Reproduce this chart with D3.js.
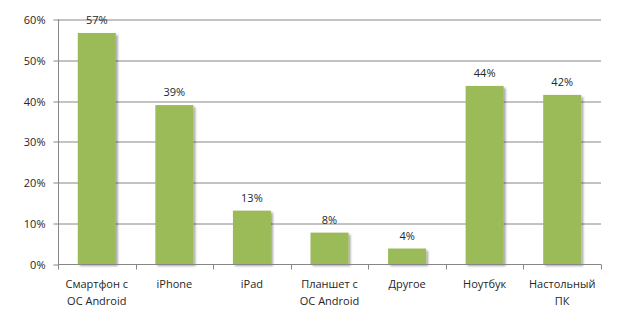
<!DOCTYPE html>
<html>
<head>
<meta charset="utf-8">
<script src="https://cdn.jsdelivr.net/npm/d3@7"></script>
<style>
  body { margin: 0; background: #fff; }
  svg text { font-family: "Open Sans", "Noto Sans", sans-serif; font-size: 11px; fill: #262626; }
  .axis path, .axis line { stroke: #868686; }
</style>
</head>
<body>
<svg width="643" height="316"><g class="chart"></g></svg>
<script>
const categories = [
  ['Смартфон  с', 'ОС Android'],
  ['iPhone'],
  ['iPad'],
  ['Планшет с', 'ОС Android'],
  ['Другое'],
  ['Ноутбук'],
  ['Настольный', 'ПК']
]
const values = [56.7, 39, 13.1, 7.7, 3.8, 43.7, 41.5]
const yTicks = [0, 10, 20, 30, 40, 50, 60]

const MARGIN = { top: 19.5, right: 42, bottom: 52, left: 58 }
const width = 643, height = 316
const boundedWidth = width - MARGIN.left - MARGIN.right
const boundedHeight = height - MARGIN.top - MARGIN.bottom

const $svg = d3.select('svg')
const $gVis = $svg.select('.chart')
  .attr('transform', `translate(${MARGIN.left}, ${MARGIN.top})`)

const xScale = d3.scaleBand()
  .domain(d3.range(categories.length))
  .range([0, boundedWidth])
  .paddingInner(0.51)
  .paddingOuter(0.255)

const bandScale = d3.scaleBand()
  .domain(d3.range(categories.length))
  .range([0, boundedWidth])

const yScale = d3.scaleLinear()
  .domain([0, 60])
  .range([boundedHeight, 0])

// grid
$gVis.append('g')
  .selectAll('line')
  .data(yTicks.slice(1))
  .enter()
  .append('line')
  .attr('x1', 0)
  .attr('x2', boundedWidth)
  .attr('y1', d => Math.round(yScale(d)) + 0.5)
  .attr('y2', d => Math.round(yScale(d)) + 0.5)
  .attr('stroke', '#868686')

// y axis
const yAxis = $gVis.append('g')
  .attr('class', 'axis y-axis')
  .attr('transform', 'translate(0.5, 0)')
  .call(d3.axisLeft(yScale).tickValues(yTicks).tickSize(5).tickPadding(8).tickFormat(d => `${d}%`))
yAxis.select('.domain').attr('d', `M0,${boundedHeight}V0`)
yAxis.selectAll('.tick').attr('transform', d => `translate(0, ${Math.round(yScale(d)) + 0.5})`)

// shadows
const defs = $svg.append('defs')
const filter = defs.append('filter').attr('id', 'shadow')
  .attr('x', '-20%').attr('y', '-20%').attr('width', '150%').attr('height', '150%')
filter.append('feGaussianBlur').attr('in', 'SourceAlpha').attr('stdDeviation', 1.2)
filter.append('feOffset').attr('dx', 2).attr('dy', 1.5).attr('result', 'off')
filter.append('feComponentTransfer').append('feFuncA').attr('type', 'linear').attr('slope', 0.35)
const merge = filter.append('feMerge')
merge.append('feMergeNode')
merge.append('feMergeNode').attr('in', 'SourceGraphic')

// bars
$gVis.selectAll('rect.bar')
  .data(values)
  .enter()
  .append('rect')
  .attr('class', 'bar')
  .attr('x', (d, i) => xScale(i))
  .attr('y', d => yScale(d))
  .attr('width', xScale.bandwidth())
  .attr('height', d => boundedHeight - yScale(d))
  .attr('fill', '#9BBB59')
  .attr('filter', 'url(#shadow)')

// x axis
const xAxis = $gVis.append('g')
  .attr('class', 'axis x-axis')
  .attr('transform', `translate(0, ${boundedHeight + 0.5})`)
xAxis.append('line')
  .attr('x1', 0).attr('x2', boundedWidth)
  .attr('stroke', '#868686')
xAxis.selectAll('line.tick')
  .data(d3.range(categories.length + 1))
  .enter()
  .append('line')
  .attr('class', 'tick')
  .attr('x1', i => Math.round(i * bandScale.step()) + 0.5)
  .attr('x2', i => Math.round(i * bandScale.step()) + 0.5)
  .attr('y1', 0)
  .attr('y2', 5)
  .attr('stroke', '#868686')

const xLabels = xAxis.selectAll('text.x-label')
  .data(categories)
  .enter()
  .append('text')
  .attr('class', 'x-label')
  .attr('text-anchor', 'middle')
  .attr('x', (d, i) => bandScale(i) + bandScale.bandwidth() / 2)
  .attr('y', 23)
xLabels.selectAll('tspan')
  .data(d => d)
  .enter()
  .append('tspan')
  .attr('x', function () { return d3.select(this.parentNode).attr('x') })
  .attr('dy', (d, i) => i === 0 ? 0 : 17)
  .text(d => d)

// value labels
$gVis.selectAll('text.value')
  .data(values)
  .enter()
  .append('text')
  .attr('class', 'value')
  .attr('text-anchor', 'middle')
  .attr('x', (d, i) => xScale(i) + xScale.bandwidth() / 2)
  .attr('y', d => yScale(d) - 9)
  .text(d => `${Math.round(d)}%`)
</script>
</body>
</html>
